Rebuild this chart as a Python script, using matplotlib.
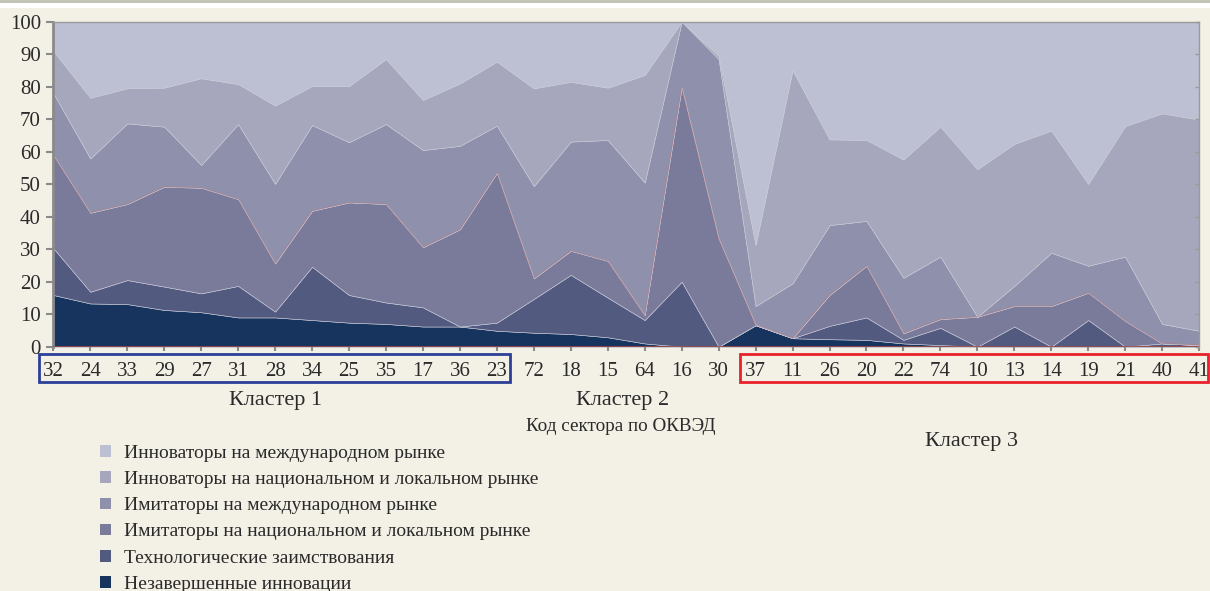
#!/usr/bin/env python3

'''
Stacked area chart: structure of innovation activity by OKVED sector code,
sectors grouped in three clusters.
'''

import numpy as np
from matplotlib import pyplot as plt
from matplotlib.patches import Patch, Rectangle
from matplotlib.transforms import blended_transform_factory

plt.rcParams['font.family'] = ['Liberation Serif', 'DejaVu Serif']

SECTORS = ['32', '24', '33', '29', '27', '31', '28', '34', '25', '35', '17',
           '36', '23', '72', '18', '15', '64', '16', '30', '37', '11', '26',
           '20', '22', '74', '10', '13', '14', '19', '21', '40', '41']

# shares in percent, bottom layer first
unfinished = [15.9, 13.3, 13.1, 11.3, 10.6, 9.0, 9.0, 8.2, 7.4, 7.0, 6.2,
              6.2, 4.9, 4.3, 3.9, 2.9, 1.0, 0.0, 0.0, 6.6, 2.6, 2.3,
              2.1, 1.0, 0.5, 0.0, 0.0, 0.0, 0.0, 0.0, 0.0, 0.0]
tech_borrowing = [14.4, 3.6, 7.4, 7.2, 5.8, 9.7, 1.8, 16.4, 8.5, 6.6, 5.9,
                  0.0, 2.5, 10.4, 18.2, 12.2, 7.2, 20.0, 0.0, 0.0, 0.0, 4.1,
                  6.9, 1.1, 5.3, 0.0, 6.2, 0.0, 8.2, 0.0, 1.0, 0.5]
imit_national = [28.7, 24.3, 23.4, 30.7, 32.5, 26.7, 14.8, 17.2, 28.5, 30.3,
                 18.5, 29.9, 46.1, 6.3, 7.4, 11.3, 1.5, 59.8, 33.3, 0.2,
                 0.0, 9.5, 15.9, 2.0, 2.7, 9.2, 6.3, 12.5, 8.4, 7.9,
                 0.0, 0.0]
imit_international = [19.0, 16.7, 24.8, 18.5, 7.0, 23.1, 24.5, 26.4, 18.5,
                      24.6, 29.9, 25.7, 14.5, 28.4, 33.6, 37.2, 40.8, 20.2,
                      55.2, 5.7, 16.9, 21.5, 13.8, 17.1, 19.2, 0.0, 6.2,
                      16.4, 8.3, 19.8, 6.0, 4.4]
innov_national = [13.0, 18.7, 10.8, 12.0, 26.7, 12.3, 24.1, 12.0, 17.3,
                  20.0, 15.4, 19.2, 19.7, 30.1, 18.4, 16.1, 33.1, 0.0, 1.0,
                  18.8, 65.6, 26.4, 24.9, 36.4, 40.0, 45.4, 43.7, 37.6,
                  25.2, 40.2, 64.8, 65.0]
innov_international = [9.0, 23.4, 20.5, 20.3, 17.4, 19.2, 25.8, 19.8, 19.8,
                       11.5, 24.1, 19.0, 12.3, 20.5, 18.5, 20.3, 16.4, 0.0,
                       10.5, 68.7, 14.9, 36.2, 36.4, 42.4, 32.3, 45.4, 37.6,
                       33.5, 49.9, 32.1, 28.2, 30.1]

LABELS = [
    'Незавершенные инновации',
    'Технологические заимствования',
    'Имитаторы на национальном и локальном рынке',
    'Имитаторы на международном рынке',
    'Инноваторы на национальном и локальном рынке',
    'Инноваторы на международном рынке',
]
COLORS = ['#17345f', '#525a80', '#7a7b9b', '#8f90ab', '#a6a7bc', '#bdbfd3']

CLUSTERS = [
    # label, first index, last index, caption x, caption y (axes fraction),
    # box colour, box margins left/right (in category steps)
    ('Кластер 1', 0, 12, 6.0, -0.167, '#2b3f99', (0.39, 0.36)),
    ('Кластер 2', 13, 18, 15.4, -0.167, None, None),
    ('Кластер 3', 19, 31, 24.85, -0.292, '#e8212b', (0.41, 0.24)),
]

BG = '#f3f0e6'
TEXT = '#2a2a2a'


if __name__ == '__main__':
    x = np.arange(len(SECTORS))
    layers = [unfinished, tech_borrowing, imit_national,
              imit_international, innov_national, innov_international]

    fig = plt.figure(figsize=(12.1, 5.91), dpi=100, facecolor=BG)
    ax = fig.add_axes([0.0441, 0.4134, 0.9469, 0.5499])
    ax.set_facecolor(BG)

    ax.stackplot(x, *layers, colors=COLORS,
                 edgecolor='#c9cad8', linewidth=0.4)
    # thin reddish edge on top of the national imitators layer
    top_imit = np.cumsum(layers[:3], axis=0)[-1]
    ax.plot(x, top_imit, color='#c86a6a', linewidth=0.5, alpha=0.5)
    ax.axhline(0, color='#a04a42', linewidth=1.2, zorder=3)

    ax.set_xlim(x[0], x[-1])
    ax.set_ylim(0, 100)
    ax.set_yticks(range(0, 101, 10))
    ax.set_xticks(x)
    ax.set_xticklabels(SECTORS)

    for side in ['top', 'right']:
        ax.spines[side].set_color('#9a9a9a')
        ax.spines[side].set_linewidth(1.0)
    ax.spines['left'].set_color('#8a8a8a')
    ax.spines['left'].set_linewidth(2.0)
    ax.spines['bottom'].set_visible(False)

    ax.tick_params(axis='y', colors='#8a8a8a', length=5, width=1.5,
                   labelcolor=TEXT, labelsize=15, pad=4)
    ax.tick_params(axis='x', colors='#8a8a8a', length=3, width=1.5,
                   labelcolor=TEXT, labelsize=15, pad=8)

    # small inner ticks on the right border
    ax_r = ax.twinx()
    ax_r.set_ylim(0, 100)
    ax_r.set_yticks(range(0, 101, 10))
    ax_r.tick_params(axis='y', direction='in', length=3, width=1,
                     colors='#9a9a9a', labelright=False)
    for side in ax_r.spines:
        ax_r.spines[side].set_visible(False)

    # cluster boxes and captions
    trans = blended_transform_factory(ax.transData, ax.transAxes)
    for label, first, last, cx, cy, box_color, margins in CLUSTERS:
        if box_color is not None:
            left = first - margins[0]
            right = last + margins[1]
            ax.add_patch(Rectangle((left, -0.109), right - left, 0.087,
                                   transform=trans, fill=False,
                                   edgecolor=box_color, linewidth=2.0,
                                   clip_on=False))
        ax.text(cx, cy, label, transform=trans,
                ha='center', va='center', fontsize=16, color=TEXT)

    ax.text(15.35, -0.247, 'Код сектора по ОКВЭД', transform=trans,
            ha='center', va='center', fontsize=13.8, color=TEXT)

    # legend, top layer first
    handles = [Patch(facecolor=c, edgecolor='none')
               for c in reversed(COLORS)]
    fig.legend(handles, list(reversed(LABELS)),
               loc='upper left', bbox_to_anchor=(0.0826, 0.2470),
               frameon=False, fontsize=14, labelcolor=TEXT,
               handlelength=0.55, handleheight=0.55, handletextpad=0.7,
               labelspacing=0.47, borderpad=0, borderaxespad=0)

    # grey strip along the top edge of the slide
    fig.patches.append(Rectangle((0, 0.9865), 1, 0.0135,
                                 transform=fig.transFigure,
                                 facecolor='white', edgecolor='none'))
    fig.patches.append(Rectangle((0, 0.9955), 1, 0.0045,
                                 transform=fig.transFigure,
                                 facecolor='#c4c3b8', edgecolor='none'))

    fig.savefig('out.png', facecolor=BG)
